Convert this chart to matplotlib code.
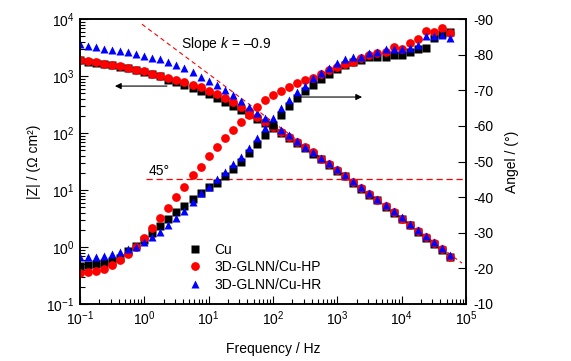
import matplotlib
matplotlib.use("Agg")
import matplotlib.pyplot as plt

plt.rcParams["font.family"] = ["Liberation Sans", "DejaVu Sans"]
plt.rcParams["mathtext.fontset"] = "custom"
plt.rcParams["mathtext.rm"] = "Liberation Sans"
plt.rcParams["mathtext.it"] = "Liberation Sans:italic"
plt.rcParams["axes.unicode_minus"] = False

# measured frequencies (~8 points per decade)
freq_hz = [
    0.1, 0.1334, 0.1778, 0.2371, 0.3162, 0.4217, 0.5623, 0.7499,
    1.0, 1.334, 1.778, 2.371, 3.162, 4.217, 5.623, 7.499,
    10, 13.34, 17.78, 23.71, 31.62, 42.17, 56.23, 74.99,
    100, 133.4, 177.8, 237.1, 316.2, 421.7, 562.3, 749.9,
    1000, 1334, 1778, 2371, 3162, 4217, 5623, 7499,
    10000, 13340, 17780, 23710, 31620, 42170, 56230,
]

# |Z| (Ohm cm2)
zmod_cu = [
    1880, 1780, 1710, 1600, 1540, 1460, 1360, 1270, 1190, 1100, 986, 851,
    774, 695, 615, 553, 483, 417, 355, 302, 257, 214, 178, 148, 123, 100,
    81.3, 66.1, 53.7, 43.6, 34.7, 27.5, 21.9, 17.4, 13.5, 10.5, 8.32, 6.61,
    5.13, 3.98, 3.09, 2.40, 1.86, 1.45, 1.15, 0.891, 0.676,
]
zmod_hp = [
    1910, 1810, 1740, 1630, 1560, 1480, 1380, 1290, 1210, 1110, 1010, 923,
    851, 774, 695, 632, 553, 479, 407, 347, 288, 240, 195, 158, 129, 105,
    85.1, 69.2, 56.2, 45.7, 35.5, 28.2, 22.4, 17.8, 13.8, 10.7, 8.51, 6.76,
    5.25, 4.07, 3.16, 2.45, 1.91, 1.48, 1.17, 0.912, 0.676,
]
zmod_hr = [
    3640, 3400, 3180, 3050, 2860, 2710, 2600, 2430, 2280, 2120, 1990, 1780,
    1560, 1360, 1160, 973, 828, 692, 562, 457, 363, 288, 229, 182, 145, 115,
    91.2, 72.4, 57.5, 46.8, 37.2, 29.5, 23.4, 18.6, 14.5, 11.2, 8.91, 7.08,
    5.50, 4.27, 3.31, 2.57, 2.00, 1.55, 1.23, 0.955, 0.724,
]

# phase angle (deg)
phase_cu = [
    -20.7, -20.9, -21.1, -21.4, -22.1, -23.0, -25.0, -26.4, -28.0, -30.0,
    -31.9, -33.8, -35.9, -37.6, -39.4, -41.1, -42.8, -44.0, -46.0, -48.0,
    -50.0, -52.3, -54.8, -57.5, -60.3, -63.0, -65.5, -67.8, -69.8, -71.6,
    -73.2, -74.6, -75.9, -77.2, -77.9, -78.5, -79.3, -79.3, -79.5, -79.9,
    -79.9, -80.8, -81.5, -81.8, -84.6, -85.8, -86.4,
]
phase_hp = [
    -18.8, -19.0, -19.3, -19.7, -20.9, -22.4, -24.0, -26.1, -28.6, -31.2,
    -34.1, -36.9, -40.0, -42.9, -46.1, -48.6, -51.6, -54.0, -56.5, -58.9,
    -61.2, -63.1, -65.2, -67.4, -68.7, -69.9, -70.8, -72.0, -72.9, -73.6,
    -74.7, -75.7, -76.6, -77.4, -78.0, -79.0, -79.9, -80.6, -80.8, -82.2,
    -81.5, -83.3, -84.3, -86.6, -86.4, -87.4, -86.0,
]
phase_hr = [
    -23.2, -23.3, -23.3, -23.5, -24.0, -24.6, -25.3, -26.1, -27.4, -28.9,
    -30.2, -32.2, -34.2, -36.2, -38.6, -41.1, -42.8, -45.1, -47.1, -49.2,
    -51.3, -53.8, -56.5, -59.3, -62.1, -64.9, -67.4, -69.5, -71.2, -73.5,
    -75.0, -76.3, -77.8, -78.8, -79.3, -79.5, -80.5, -80.8, -81.5, -81.5,
    -81.5, -82.0, -82.8, -85.2, -85.2, -85.6, -84.8,
]

labels = ["Cu", "3D-GLNN/Cu-HP", "3D-GLNN/Cu-HR"]

# guide lines
slope_f = [0.92, 87000]
slope_z = [8150, 0.52]
angle_45_f = [1.06, 1e5]
angle_45 = [-45, -45]


def main():
    fig = plt.figure(figsize=(5.71, 3.61), dpi=100)
    ax = fig.add_axes([0.140, 0.158, 0.676, 0.789])
    ax2 = ax.twinx()

    styles = [
        dict(marker="s", color="black", ms=5.3),
        dict(marker="o", color="red", ms=6.3),
        dict(marker="^", color="blue", ms=6.3),
    ]
    zmods = [zmod_cu, zmod_hp, zmod_hr]
    phases = [phase_cu, phase_hp, phase_hr]

    # slope guide under the markers
    ax.plot(slope_f, slope_z, color="red", lw=0.8, dashes=(4, 3), zorder=1)

    for z, st, lab in zip(zmods, styles, labels):
        ax.plot(freq_hz, z, ls="none", mec="none", label=lab, zorder=2, **st)
    for p, st in zip(phases, styles):
        ax2.plot(freq_hz, p, ls="none", mec="none", zorder=2, **st)

    ax2.plot(angle_45_f, angle_45, color="red", lw=0.9, dashes=(5, 3), zorder=1)

    ax.set_xscale("log")
    ax.set_yscale("log")
    ax.set_xlim(0.1, 1e5)
    ax.set_ylim(0.1, 1e4)
    ax2.set_ylim(-10, -90)
    ax2.set_yticks(range(-90, 0, 10))

    ax.tick_params(which="both", direction="in", top=False, right=False,
                   labelsize=10, width=0.8)
    ax.tick_params(which="major", length=6, pad=4)
    ax.tick_params(which="minor", length=3.5)
    ax2.tick_params(direction="in", length=6, width=0.8, labelsize=10, pad=5)
    for a in (ax, ax2):
        for s in a.spines.values():
            s.set_linewidth(1.1)

    ax.set_xlabel("Frequency / Hz", fontsize=10)
    ax.set_ylabel("|Z| / (\u03a9 cm\u00b2)", fontsize=10)
    ax2.set_ylabel("Angel / (\u00b0)", fontsize=10)
    ax.xaxis.set_label_coords(0.5, -0.135)
    ax.yaxis.set_label_coords(-0.10, 0.5)
    ax2.yaxis.set_label_coords(1.10, 0.5)

    # annotations
    ax.text(0.262, 0.912, "Slope $k$ = \u20130.9", transform=ax.transAxes,
            fontsize=10, va="center", ha="left")
    ax.text(0.179, 0.467, "45\u00b0", transform=ax.transAxes,
            fontsize=10, va="center", ha="left")

    arrow = dict(arrowstyle="-|>", color="black", lw=0.8, mutation_scale=9,
                 shrinkA=0, shrinkB=0)
    ax.annotate("", xy=(0.35, 668), xytext=(2.25, 668), arrowprops=arrow)
    ax.annotate("", xy=(2430, 429), xytext=(221, 429), arrowprops=arrow)

    ax.legend(loc="upper left", bbox_to_anchor=(0.28, 0.215), frameon=False,
              fontsize=10, numpoints=1, handlelength=1.0, handletextpad=0.9,
              labelspacing=0.25, borderpad=0, borderaxespad=0)

    fig.savefig("out.png", dpi=100)


if __name__ == "__main__":
    main()
